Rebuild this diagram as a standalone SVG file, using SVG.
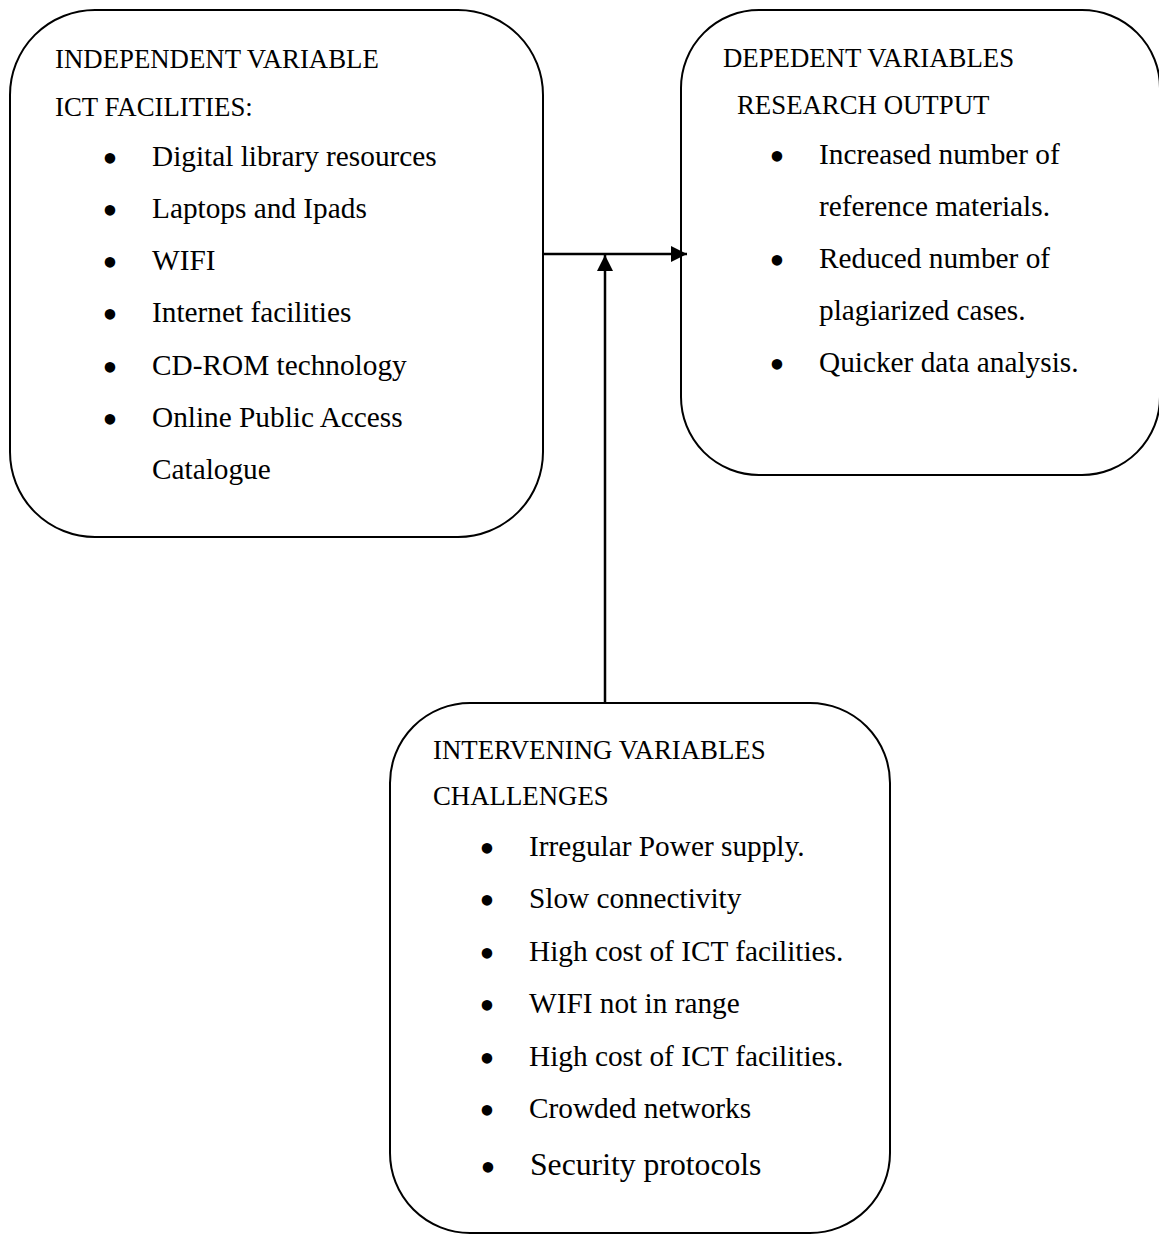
<svg xmlns="http://www.w3.org/2000/svg" width="1159" height="1235" viewBox="0 0 1159 1235">
<style>
  .box { fill: #ffffff; stroke: #000000; stroke-width: 2; }
  .hd { font-family: "Liberation Serif", "Times New Roman", serif; font-size: 26.8px; fill: #000; }
  .it { font-family: "Liberation Serif", "Times New Roman", serif; font-size: 29.3px; fill: #000; }
  .big { font-family: "Liberation Serif", "Times New Roman", serif; font-size: 31.7px; fill: #000; }
  .bl { font-family: "Liberation Serif", "Times New Roman", serif; font-size: 44px; fill: #000; text-anchor: middle; }
  .conn { stroke: #000; stroke-width: 2.5; fill: none; }
</style>
<defs>
  <marker id="arr" markerUnits="userSpaceOnUse" markerWidth="17" markerHeight="17" refX="16" refY="8" orient="auto">
    <path d="M0,0 L16,8 L0,16 Z" fill="#000"/>
  </marker>
</defs>
<rect x="0" y="0" width="1159" height="1235" fill="#ffffff"/>

<g id="independent">
  <rect class="box" x="10" y="10" width="533" height="527" rx="85" ry="85"/>
  <text class="hd" x="55" y="68">INDEPENDENT VARIABLE</text>
  <text class="hd" x="55" y="116">ICT FACILITIES:</text>
  <text class="bl" x="110" y="173">•</text><text class="it" x="152" y="166">Digital library resources</text>
  <text class="bl" x="110" y="225">•</text><text class="it" x="152" y="218">Laptops and Ipads</text>
  <text class="bl" x="110" y="277">•</text><text class="it" x="152" y="270">WIFI</text>
  <text class="bl" x="110" y="329">•</text><text class="it" x="152" y="322">Internet facilities</text>
  <text class="bl" x="110" y="382">•</text><text class="it" x="152" y="375">CD-ROM technology</text>
  <text class="bl" x="110" y="434">•</text><text class="it" x="152" y="427">Online Public Access</text>
  <text class="it" x="152" y="479">Catalogue</text>
</g>

<g id="dependent">
  <rect class="box" x="681" y="10" width="479" height="465" rx="78" ry="78"/>
  <text class="hd" x="723" y="67">DEPEDENT VARIABLES</text>
  <text class="hd" x="737" y="114">RESEARCH OUTPUT</text>
  <text class="bl" x="777" y="171">•</text><text class="it" x="819" y="164">Increased number of</text>
  <text class="it" x="819" y="216">reference materials.</text>
  <text class="bl" x="777" y="275">•</text><text class="it" x="819" y="268">Reduced number of</text>
  <text class="it" x="819" y="320">plagiarized cases.</text>
  <text class="bl" x="777" y="379">•</text><text class="it" x="819" y="372">Quicker data analysis.</text>
</g>

<g id="intervening">
  <rect class="box" x="390" y="703" width="500" height="530" rx="80" ry="80"/>
  <text class="hd" x="433" y="759">INTERVENING VARIABLES</text>
  <text class="hd" x="433" y="805">CHALLENGES</text>
  <text class="bl" x="487" y="863">•</text><text class="it" x="529" y="856">Irregular Power supply.</text>
  <text class="bl" x="487" y="915">•</text><text class="it" x="529" y="908">Slow connectivity</text>
  <text class="bl" x="487" y="968">•</text><text class="it" x="529" y="961">High cost of ICT facilities.</text>
  <text class="bl" x="487" y="1020">•</text><text class="it" x="529" y="1013">WIFI not in range</text>
  <text class="bl" x="487" y="1073">•</text><text class="it" x="529" y="1066">High cost of ICT facilities.</text>
  <text class="bl" x="487" y="1125">•</text><text class="it" x="529" y="1118">Crowded networks</text>
  <text class="bl" x="488" y="1182">•</text><text class="big" x="530" y="1175">Security protocols</text>
</g>

<g id="connectors">
  <line class="conn" x1="543" y1="254" x2="687" y2="254" marker-end="url(#arr)"/>
  <line class="conn" x1="605" y1="703" x2="605" y2="255" marker-end="url(#arr)"/>
</g>
</svg>
